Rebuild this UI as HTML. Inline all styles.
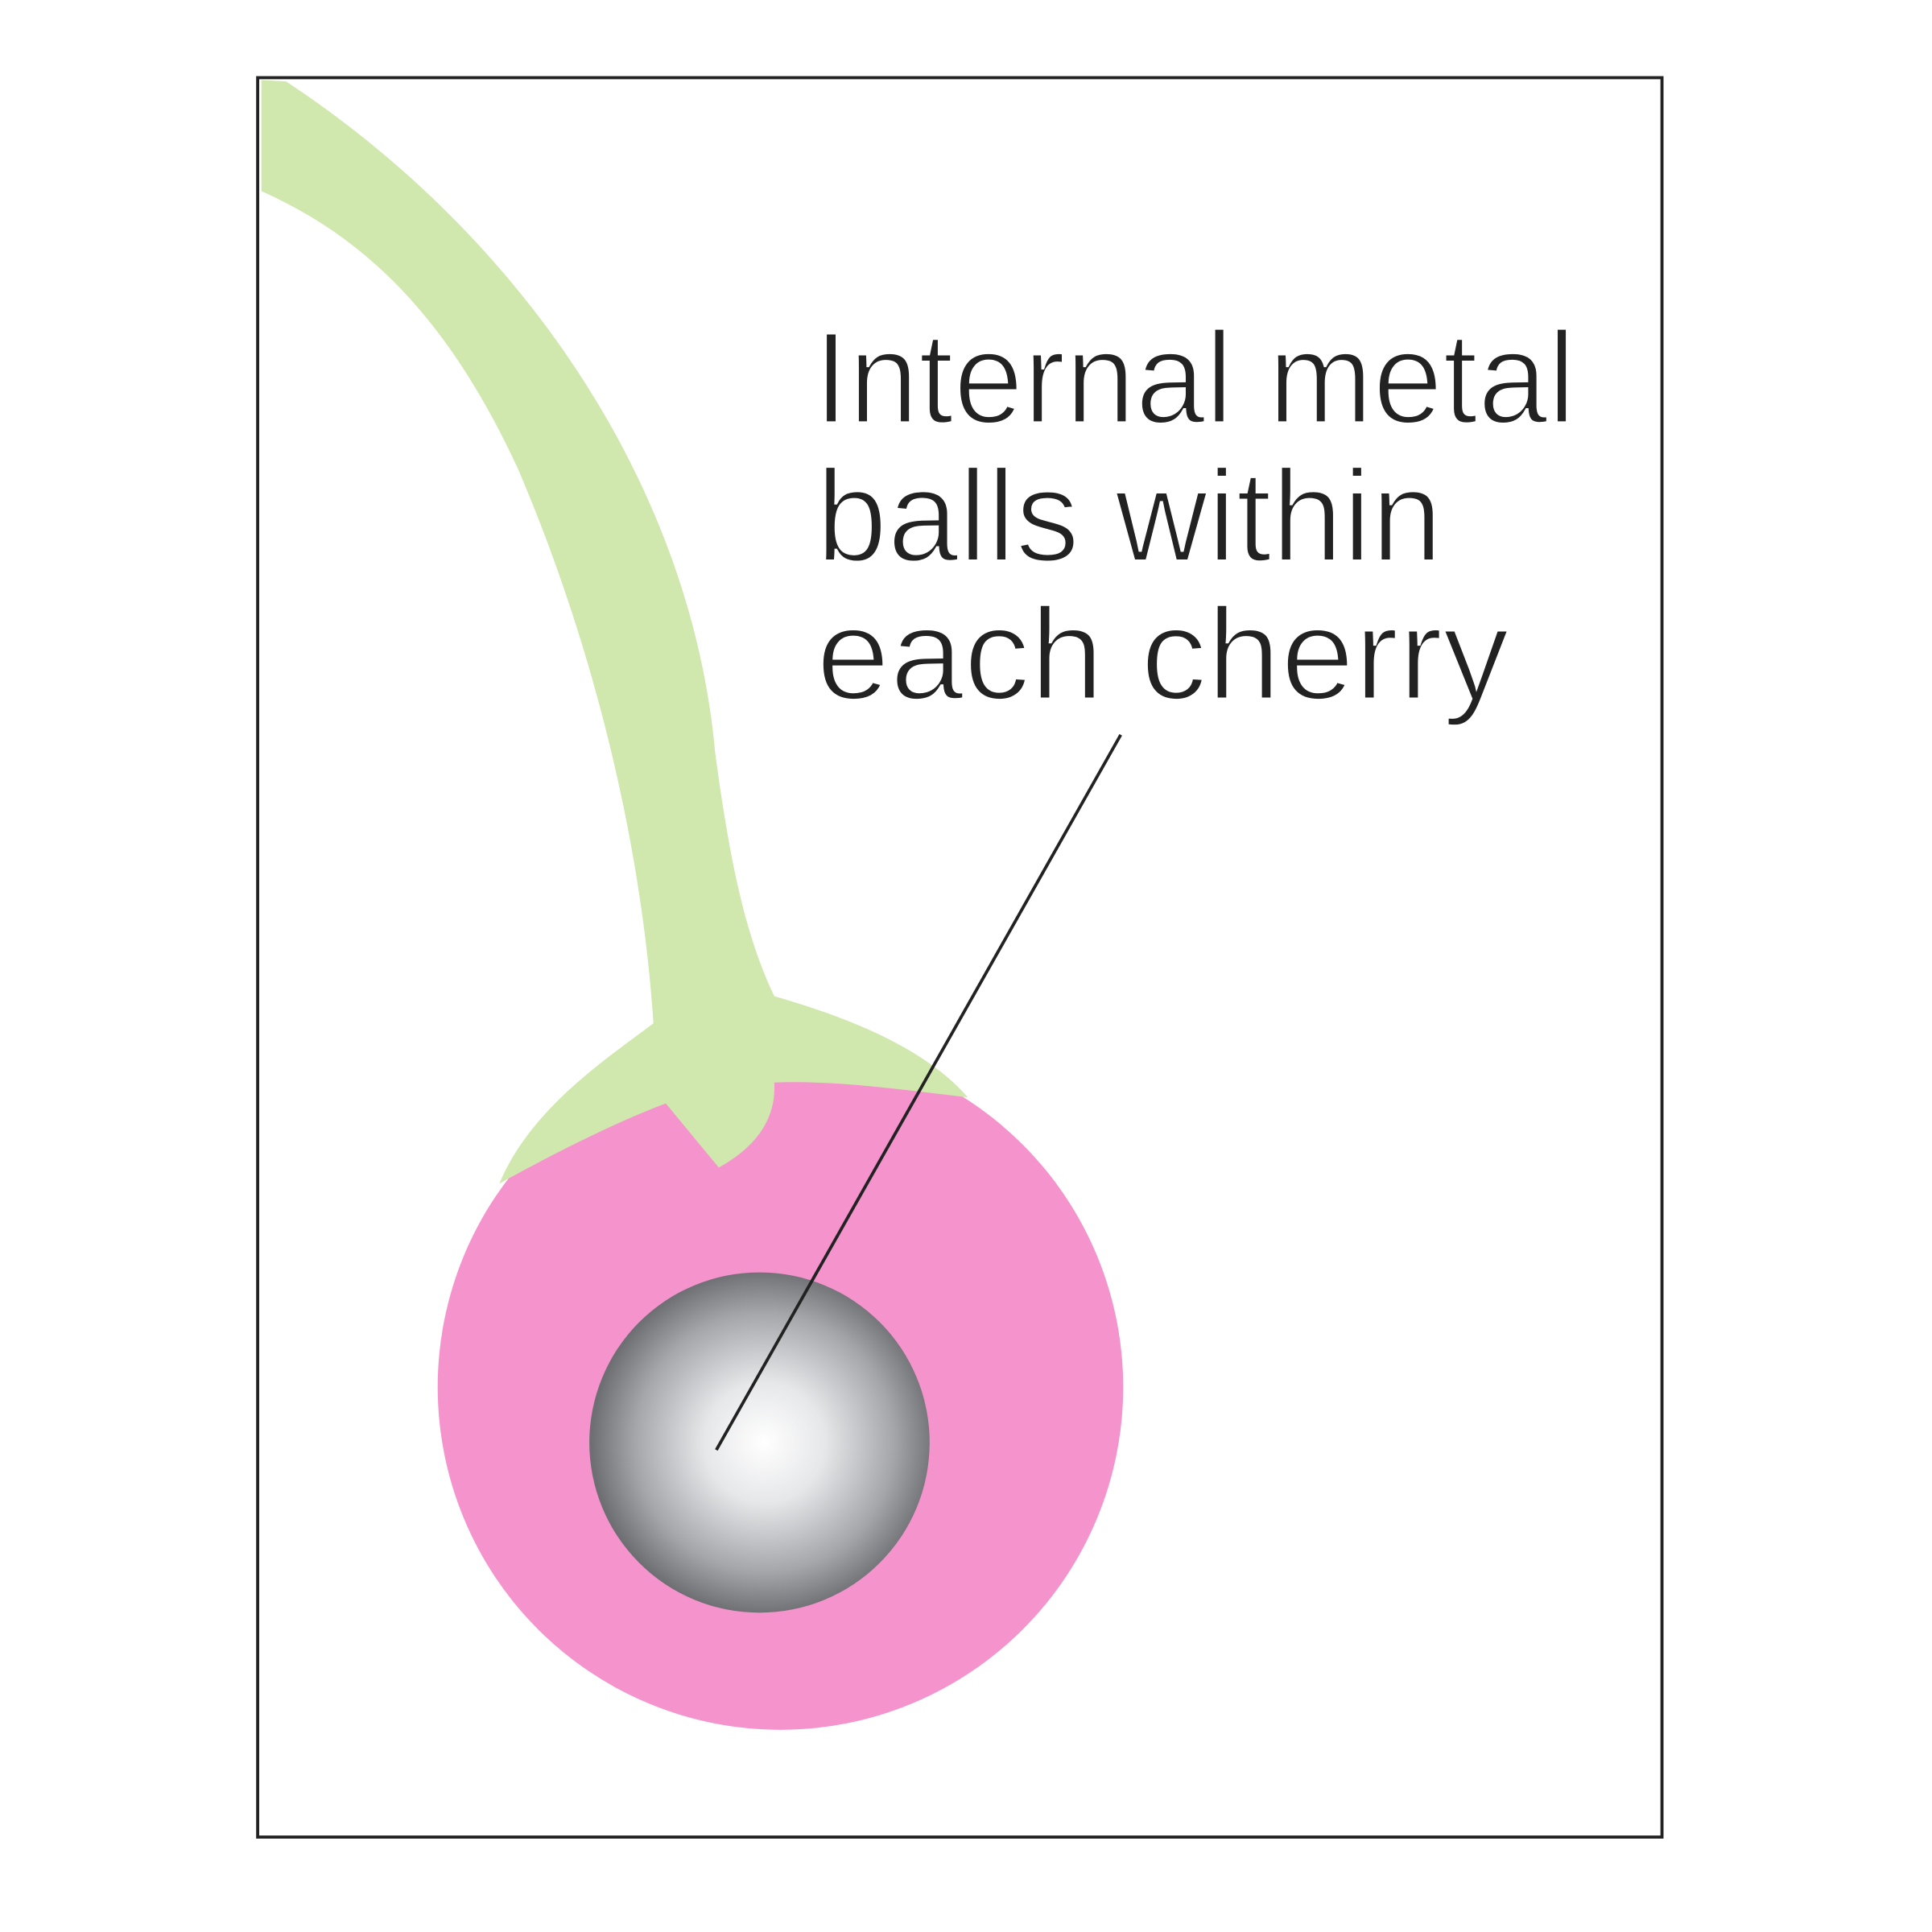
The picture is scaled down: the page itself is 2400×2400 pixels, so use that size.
<!DOCTYPE html>
<html><head><style>html,body{margin:0;padding:0;background:#fff}svg{display:block}</style></head>
<body>
<svg width="2400" height="2400" viewBox="0 0 1567 1567" xmlns="http://www.w3.org/2000/svg">
<defs>
<radialGradient id="g" cx="620" cy="1170" r="140" gradientUnits="userSpaceOnUse">
<stop offset="0" stop-color="#ffffff"/>
<stop offset="0.35" stop-color="#e6e7e9"/>
<stop offset="0.75" stop-color="#a4a6aa"/>
<stop offset="1" stop-color="#6d6f73"/>
</radialGradient>
</defs>
<rect x="209" y="63" width="1139" height="1427" fill="#fff" stroke="#222" stroke-width="2.5"/>
<circle cx="633" cy="1125" r="278" fill="#f593cd"/>
<path d="M212,65 L232,66 C420,190 560,390 580,610 C592,700 605,760 628,808 C690,826 750,850 785,890 C740,885 680,876 628,878 C630,910 610,932 583,947 L540,895 C500,910 450,935 405,960 C430,900 490,860 530,830 C520,680 480,520 420,380 C360,250 290,190 212,155 Z" fill="#d0e7ae"/>
<circle cx="616" cy="1170" r="138" fill="url(#g)"/>
<line x1="909" y1="596" x2="581" y2="1176" stroke="#222" stroke-width="2.5"/>
<g font-family="Liberation Sans, sans-serif" font-size="106" fill="#222" stroke="#fff" stroke-width="2.5">
<text x="660" y="343" textLength="618" lengthAdjust="spacingAndGlyphs">Internal metal</text>
<text x="662" y="455" textLength="508" lengthAdjust="spacingAndGlyphs">balls within</text>
<text x="662" y="567" textLength="562" lengthAdjust="spacingAndGlyphs">each cherry</text>
</g>
</svg>
</body></html>
